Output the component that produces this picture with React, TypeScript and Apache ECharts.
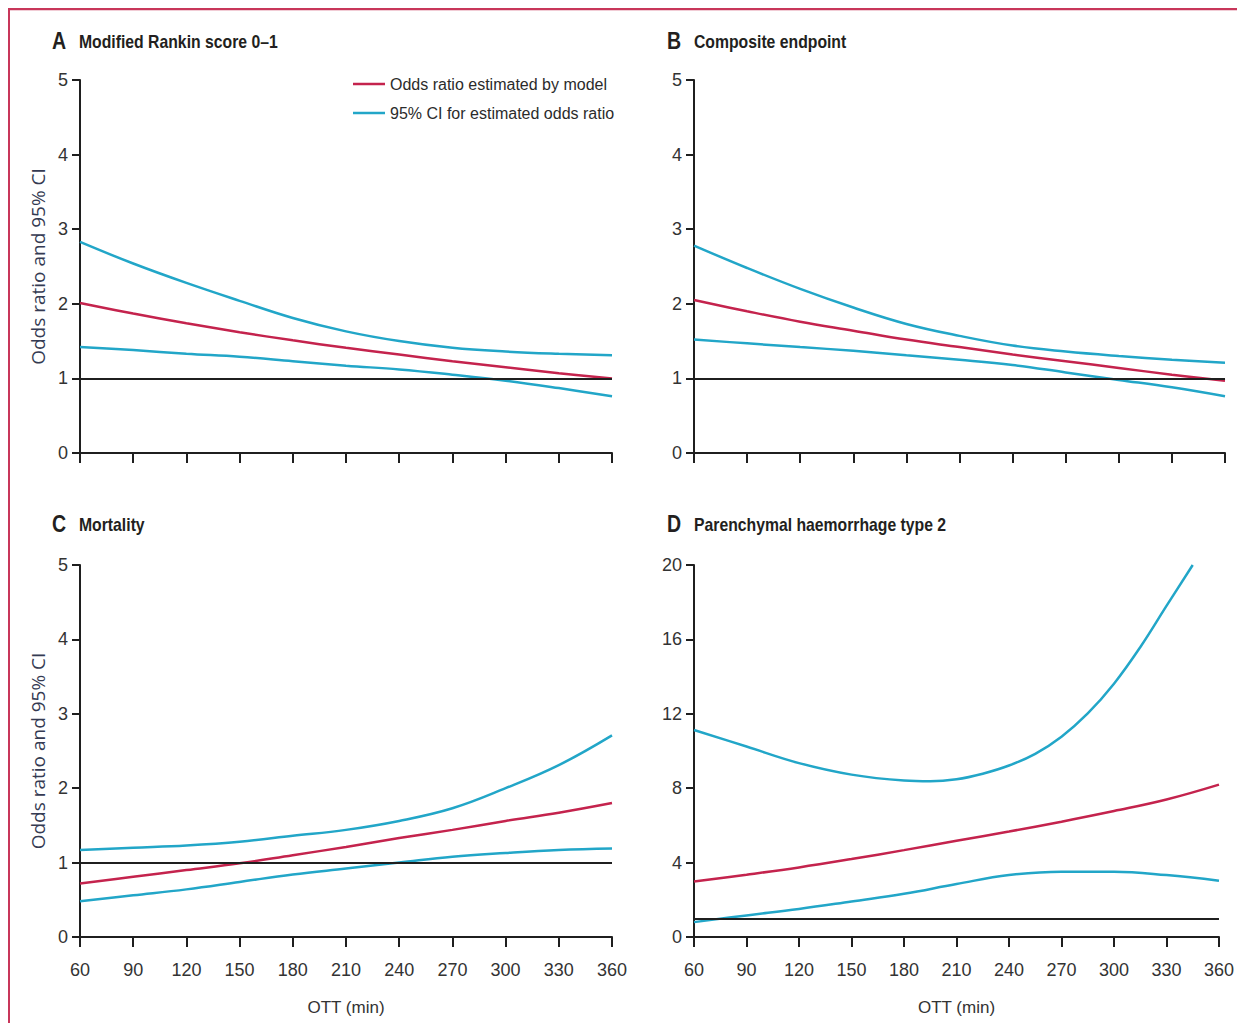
import React, { useEffect, useRef } from "react";
import * as echarts from "echarts";

// OTT (min) sample points / tick values
const OTT = [60, 90, 120, 150, 180, 210, 240, 270, 300, 330, 360];

// Panel A: Modified Rankin score 0–1
const aModel = [2.01, 1.87, 1.74, 1.62, 1.51, 1.41, 1.32, 1.23, 1.15, 1.07, 1.0];
const aUpper = [2.83, 2.54, 2.28, 2.04, 1.81, 1.63, 1.5, 1.41, 1.36, 1.33, 1.31];
const aLower = [1.42, 1.38, 1.33, 1.29, 1.23, 1.17, 1.12, 1.05, 0.97, 0.87, 0.76];

// Panel B: Composite endpoint
const bModel = [2.05, 1.9, 1.76, 1.64, 1.52, 1.42, 1.32, 1.23, 1.14, 1.05, 0.97];
const bUpper = [2.78, 2.48, 2.2, 1.95, 1.73, 1.57, 1.44, 1.36, 1.3, 1.25, 1.21];
const bLower = [1.52, 1.47, 1.42, 1.37, 1.31, 1.25, 1.18, 1.08, 0.98, 0.88, 0.76];

// Panel C: Mortality
const cModel = [0.72, 0.81, 0.9, 0.99, 1.1, 1.21, 1.33, 1.44, 1.56, 1.67, 1.8];
const cUpper = [1.17, 1.2, 1.23, 1.28, 1.36, 1.44, 1.56, 1.73, 2.0, 2.31, 2.71];
const cLower = [0.48, 0.56, 0.64, 0.74, 0.84, 0.92, 1.0, 1.08, 1.13, 1.17, 1.19];

// Panel D: Parenchymal haemorrhage type 2
const dModel = [2.99, 3.35, 3.74, 4.19, 4.67, 5.17, 5.67, 6.2, 6.77, 7.39, 8.19];
const dUpperOtt = [60, 90, 120, 150, 180, 195, 210, 225, 240, 255, 270, 285, 300, 315, 330, 345];
const dUpper = [11.13, 10.24, 9.35, 8.73, 8.41, 8.37, 8.48, 8.78, 9.22, 9.85, 10.77, 12.02, 13.62, 15.58, 17.8, 20.0];
const dLower = [0.8, 1.16, 1.51, 1.91, 2.32, 2.85, 3.33, 3.51, 3.51, 3.33, 3.03];

const PANEL_LETTERS = ["A", "B", "C", "D"];
const PANEL_TITLES = [
  "Modified Rankin score 0–1",
  "Composite endpoint",
  "Mortality",
  "Parenchymal haemorrhage type 2",
];
const Y_MAX = [5, 5, 5, 20];
const Y_INTERVAL = [1, 1, 1, 4];
const REF_VALUE = 1;

const MODEL_NAME = "Odds ratio estimated by model";
const CI_NAME = "95% CI for estimated odds ratio";
const X_NAME = "OTT (min)";
const Y_NAME = "Odds ratio and 95% CI";

const RED = "#c4234d";
const BLUE = "#22a6c8";
const INK = "#231f20";
const SANS = "'Liberation Sans', Arial, sans-serif";

const zip = (xs: number[], ys: number[]) => xs.map((x, i) => [x, ys[i]]);

export default function App() {
  const ref = useRef<HTMLDivElement>(null);

  useEffect(() => {
    if (!ref.current) return;
    const chart = echarts.init(ref.current, undefined, { renderer: "svg" });

    const grids = [
      { left: 72, top: 72, width: 532, height: 373 },
      { left: 686, top: 72, width: 531, height: 373 },
      { left: 72, top: 557, width: 532, height: 372 },
      { left: 686, top: 557, width: 531, height: 372 },
    ];

    const panelData = [
      [zip(OTT, aModel), zip(OTT, aUpper), zip(OTT, aLower)],
      [zip(OTT, bModel), zip(OTT, bUpper), zip(OTT, bLower)],
      [zip(OTT, cModel), zip(OTT, cUpper), zip(OTT, cLower)],
      [zip(OTT, dModel), zip(dUpperOtt, dUpper), zip(OTT, dLower)],
    ];

    const axisLine = { show: true, lineStyle: { color: "#1f1f1f", width: 2 } };

    const xAxis = grids.map((_, i) => ({
      type: "value",
      gridIndex: i,
      min: 60,
      max: 360,
      interval: 30,
      axisLine,
      axisTick: { show: true, length: 10, lineStyle: { color: "#1f1f1f", width: 2 } },
      splitLine: { show: false },
      axisLabel: {
        show: i >= 2,
        margin: 24,
        fontFamily: SANS,
        fontSize: 18,
        color: "#333",
      },
      name: i >= 2 ? X_NAME : "",
      nameLocation: "middle",
      nameGap: 62,
      nameTextStyle: { fontFamily: SANS, fontSize: 17, color: "#333" },
    }));

    const yAxis = grids.map((_, i) => ({
      type: "value",
      gridIndex: i,
      min: 0,
      max: Y_MAX[i],
      interval: Y_INTERVAL[i],
      axisLine,
      axisTick: { show: true, length: 8, lineStyle: { color: "#1f1f1f", width: 2 } },
      splitLine: { show: false },
      axisLabel: {
        margin: 12,
        fontFamily: SANS,
        fontSize: 18,
        color: "#333",
      },
      name: i % 2 === 0 ? Y_NAME : "",
      nameLocation: "middle",
      nameGap: 33,
      nameTextStyle: { fontFamily: "'Open Sans', 'Noto Sans', sans-serif", fontSize: 19, color: "#343a52" },
    }));

    const series: any[] = [];
    panelData.forEach((triple, i) => {
      series.push({
        type: "line",
        name: MODEL_NAME,
        xAxisIndex: i,
        yAxisIndex: i,
        data: triple[0],
        smooth: 0.4,
        showSymbol: false,
        symbol: "none",
        lineStyle: { color: RED, width: 2.5 },
        itemStyle: { color: RED },
        z: 3,
        markLine: {
          silent: true,
          symbol: ["none", "none"],
          label: { show: false },
          lineStyle: { color: "#1f1f1f", width: 2, type: "solid" },
          data: [{ yAxis: REF_VALUE }],
        },
      });
      [1, 2].forEach((k) => {
        series.push({
          type: "line",
          name: CI_NAME,
          xAxisIndex: i,
          yAxisIndex: i,
          data: triple[k],
          smooth: 0.4,
          showSymbol: false,
          symbol: "none",
          clip: true,
          lineStyle: { color: BLUE, width: 2.5 },
          itemStyle: { color: BLUE },
          z: 3,
        });
      });
    });

    const titleGraphics: any[] = [];
    const titlePos = [
      [44, 33],
      [659, 33],
      [44, 516],
      [659, 516],
    ];
    titlePos.forEach(([x, y], i) => {
      titleGraphics.push({
        type: "text",
        x,
        y,
        scaleX: 0.85,
        style: {
          text: PANEL_LETTERS[i],
          fontFamily: SANS,
          fontSize: 23,
          fontWeight: "bold",
          fill: INK,
          verticalAlign: "middle",
        },
      });
      titleGraphics.push({
        type: "text",
        x: x + 27,
        y,
        scaleX: 0.83,
        style: {
          text: PANEL_TITLES[i],
          fontFamily: SANS,
          fontSize: 19,
          fontWeight: "bold",
          fill: INK,
          verticalAlign: "middle",
        },
      });
    });

    const option: any = {
      animation: false,
      backgroundColor: "#ffffff",
      grid: grids,
      xAxis,
      yAxis,
      legend: {
        data: [MODEL_NAME, CI_NAME],
        orient: "vertical",
        left: 340,
        top: 62,
        icon: "rect",
        itemWidth: 32,
        itemHeight: 2.5,
        itemGap: 11,
        selectedMode: false,
        textStyle: { fontFamily: SANS, fontSize: 16, color: "#2b2b2b", lineHeight: 18 },
      },
      series,
      graphic: [
        {
          type: "line",
          shape: { x1: 0, y1: 1, x2: 1229, y2: 1 },
          style: { stroke: "#c8365a", lineWidth: 2.5 },
        },
        {
          type: "line",
          shape: { x1: 1, y1: 0, x2: 1, y2: 1015 },
          style: { stroke: "#c8365a", lineWidth: 2 },
        },
        ...titleGraphics,
      ],
    };

    chart.setOption(option);
    return () => chart.dispose();
  }, []);

  return <div ref={ref} style={{ width: 1229, height: 1015 }} />;
}
